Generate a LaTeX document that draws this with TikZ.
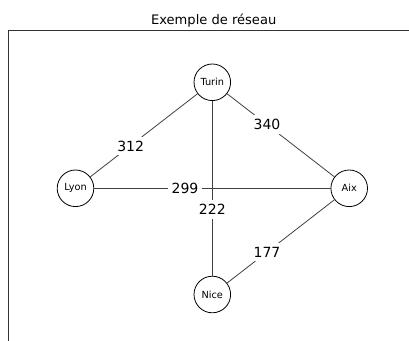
\documentclass[tikz,border=0pt]{standalone}
\usepackage{fontspec}
\setmainfont{DejaVu Sans}
\begin{document}
\begin{tikzpicture}[x=0.75pt,y=-0.75pt,
  city/.style={circle,draw=black,fill=white,line width=0.6pt,minimum size=36.6*0.75pt,inner sep=0pt,font=\fontsize{7.3}{8}\selectfont},
  road/.style={draw=black!75,line width=0.6pt},
  dist/.style={fill=white,inner sep=3pt,font=\fontsize{10.5}{12}\selectfont}]
  \useasboundingbox (0,0) rectangle (409,341);
  % axes frame (only left and top edges fall inside the page)
  \draw[black!80,line width=0.6pt] (8,345) -- (8,30) -- (415,30);
  \node[font=\fontsize{9.8}{11}\selectfont] (title) at (213.7,20.5) {Exemple de réseau};
  % cities
  \node[city] (turin) at (212.3,82.3) {Turin};
  \node[city] (lyon)  at (75.5,188.3) {Lyon};
  \node[city] (aix)   at (349.2,188.3) {Aix};
  \node[city] (nice)  at (212.3,294.5) {Nice};
  % roads
  \draw[road] (turin) -- (lyon);
  \draw[road] (turin) -- (aix);
  \draw[road] (turin) -- (nice);
  \draw[road] (lyon) -- (aix);
  \draw[road] (aix) -- (nice);
  % distances
  \node[dist] (d312) at (130.7,146) {312};
  \node[dist] (d340) at (267,124.5) {340};
  \node[dist] (d299) at (185,188.3) {299};
  \node[dist] (d222) at (212.3,209.5) {222};
  \node[dist] (d177) at (267,252) {177};
\end{tikzpicture}
\end{document}
